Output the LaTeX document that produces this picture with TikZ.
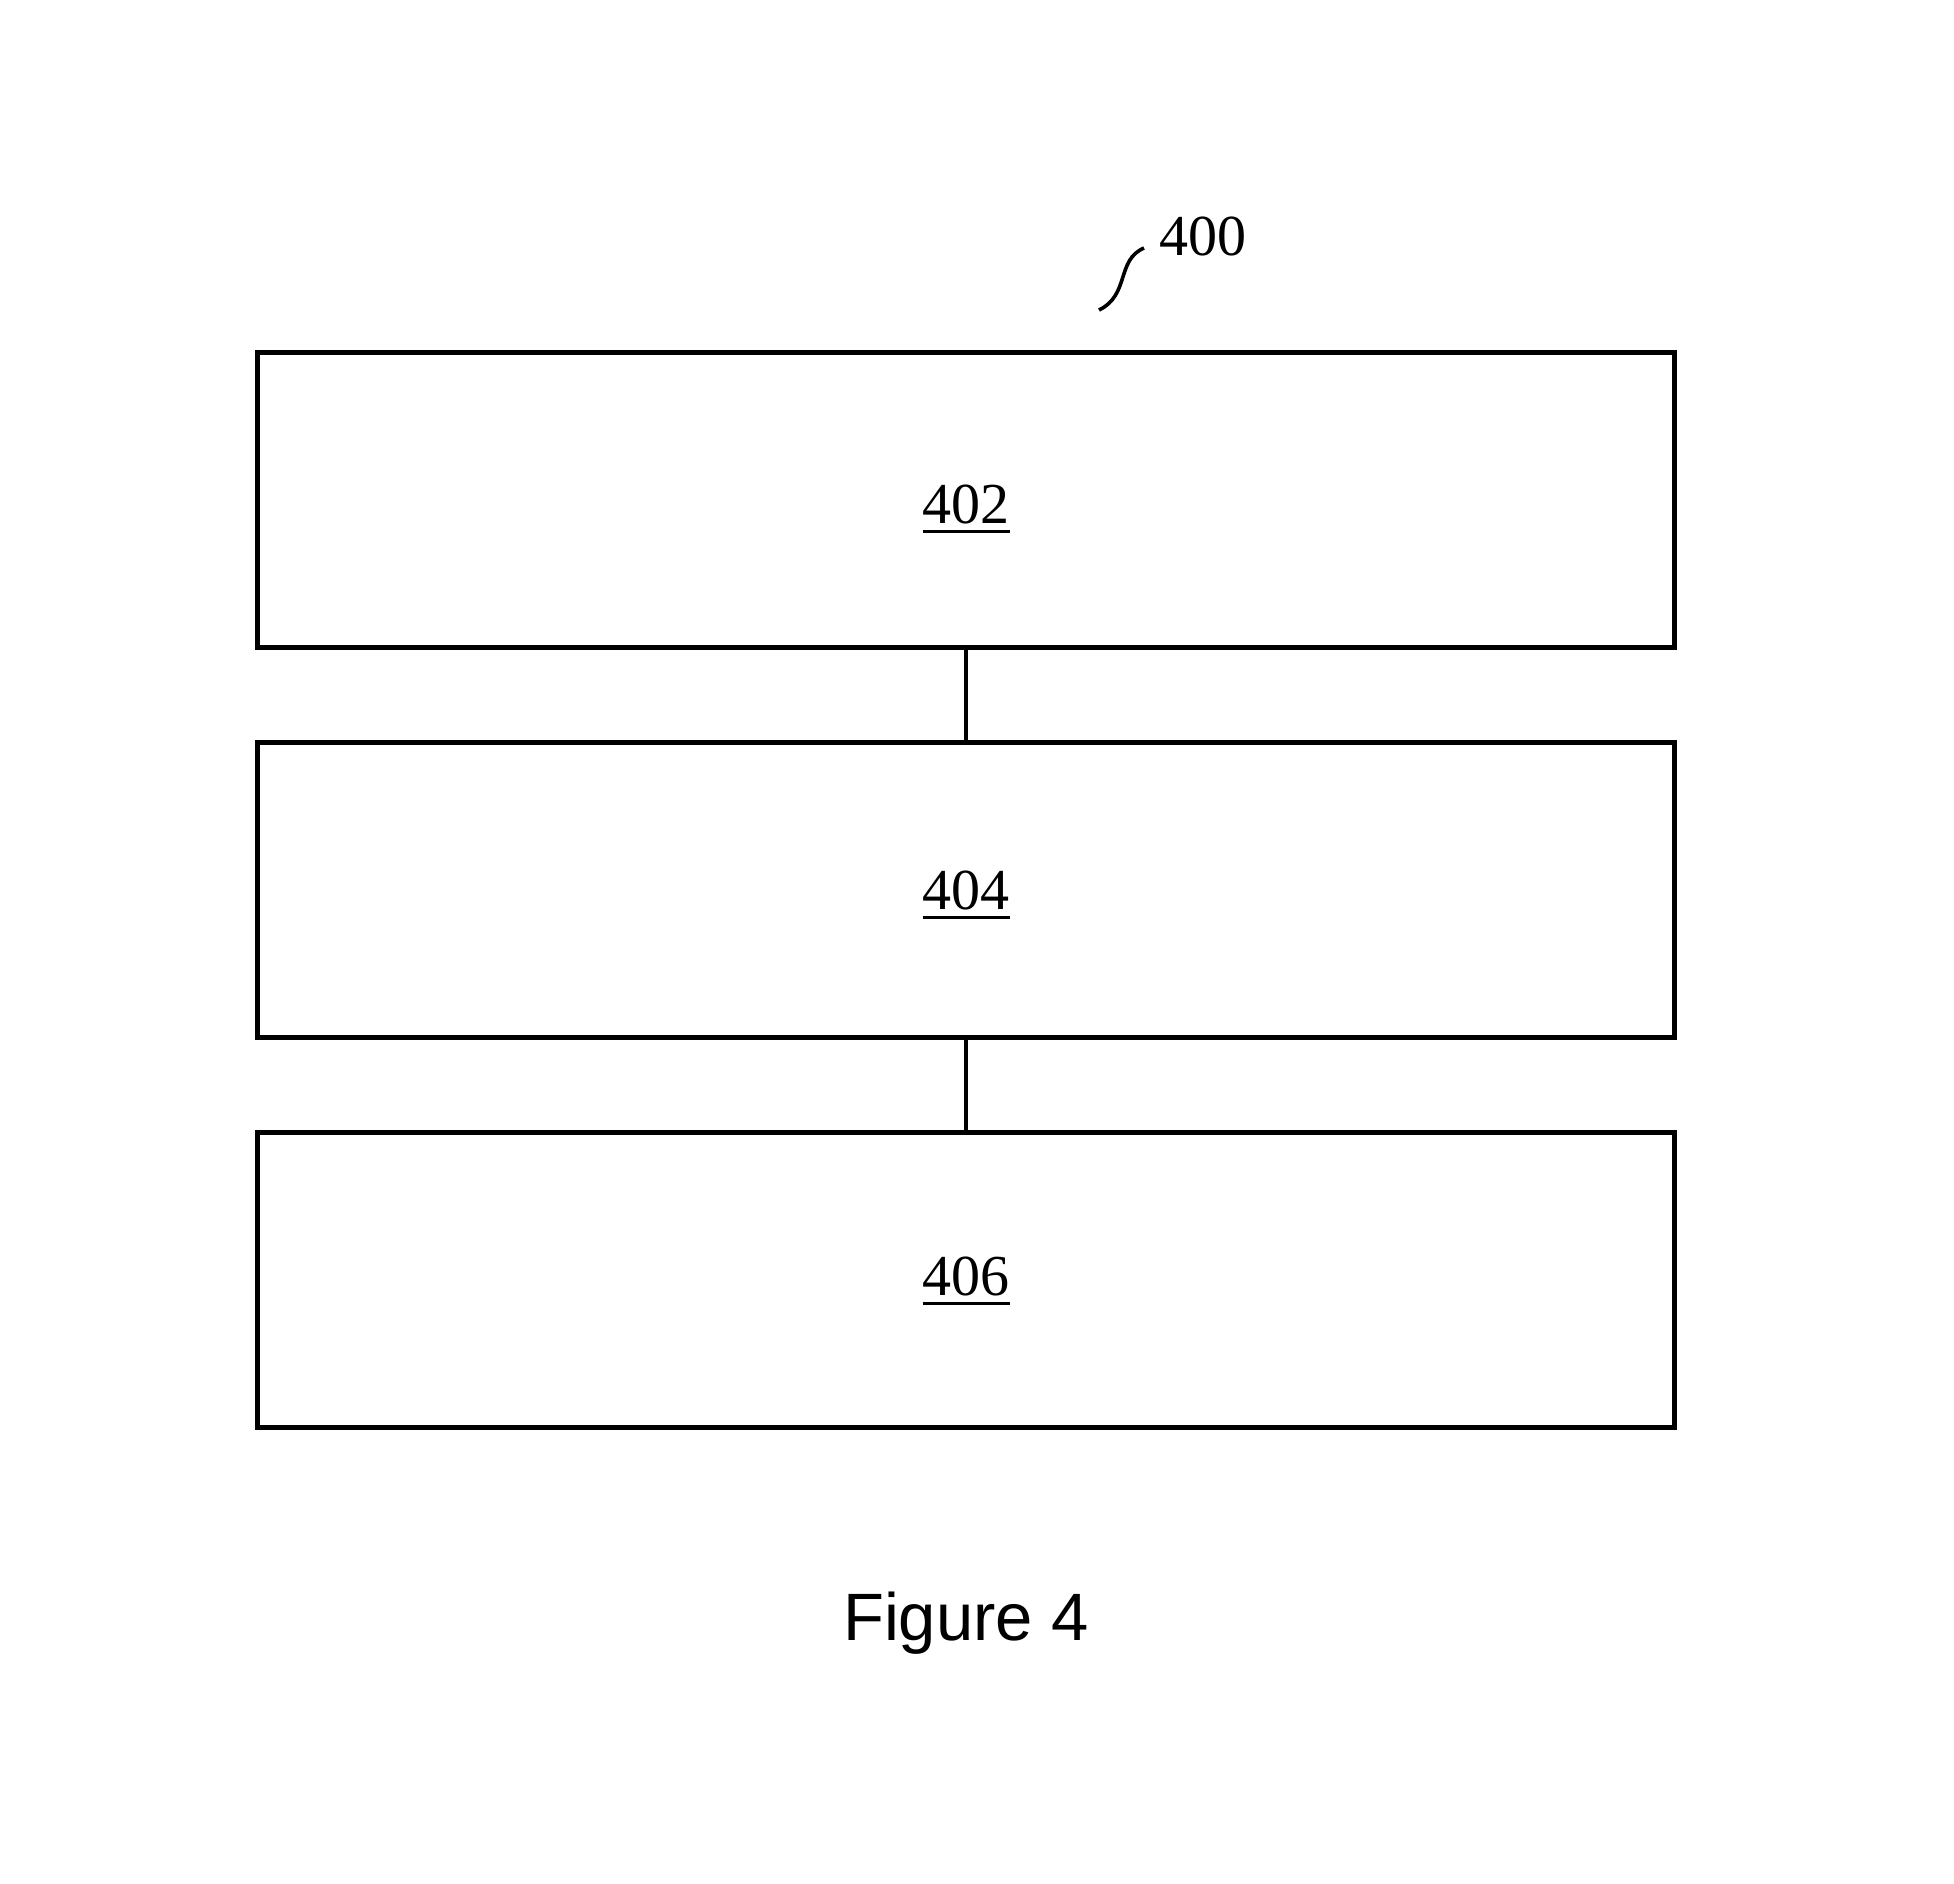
\documentclass[tikz,border=0pt]{standalone}
\usepackage{fontspec}
\setmainfont{Liberation Serif}
\newfontfamily\figfont{Liberation Sans}
\newcommand{\ulnum}[1]{\setbox0\hbox{#1}\rlap{\rule[-5pt]{\wd0}{1.6pt}}\box0}
\begin{document}
\begin{tikzpicture}[x=0.5pt,y=-0.5pt,
  blockbox/.style={draw=black,line width=2.6pt,minimum width=708.5pt,minimum height=147.5pt,inner sep=0pt},
  reflabel/.style={font=\fontsize{29}{33}\selectfont},
  conn/.style={line width=2.4pt}]
\useasboundingbox (0,0) rectangle (1954,1884);
\fill[white] (0,0) rectangle (1954,1884);
\node[blockbox] (b402) at (966,500) {};
\node[blockbox] (b404) at (966,890) {};
\node[blockbox] (b406) at (966,1280) {};
\node[reflabel] (t402) at (966,509) {\ulnum{402}};
\node[reflabel] (t404) at (966,895) {\ulnum{404}};
\node[reflabel] (t406) at (966,1281) {\ulnum{406}};
\draw[conn] (b402.south) -- (b404.north);
\draw[conn] (b404.south) -- (b406.north);
\node[reflabel] (t400) at (1203,236) {400};
\coordinate (s0) at (1099,310);
\coordinate (s1) at (1144,248);
\draw[line width=1.8pt] (s0) .. controls (1130,295) and (1116,260) .. (s1);
\node[font=\figfont\fontsize{33.5}{38}\selectfont] (fig) at (966,1623) {Figure 4};
\end{tikzpicture}
\end{document}
